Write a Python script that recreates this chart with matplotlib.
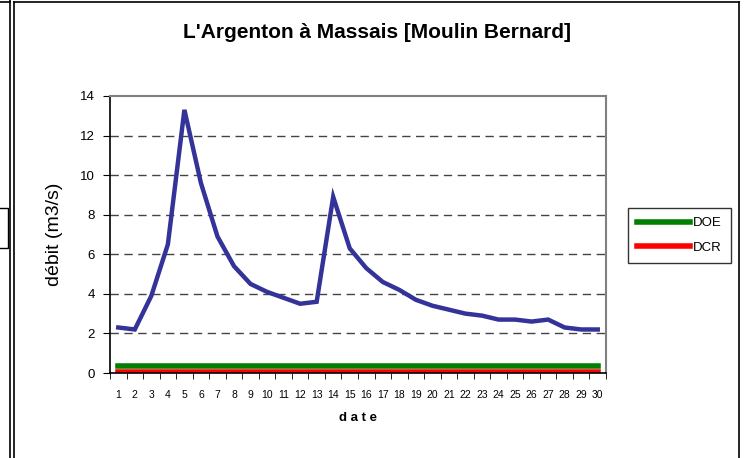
import numpy as np
import matplotlib.pyplot as plt
from matplotlib.lines import Line2D
from matplotlib.patches import Rectangle

plt.rcParams['font.family'] = ['Liberation Sans', 'DejaVu Sans']

jours = list(range(1, 31))
debit = [2.3, 2.2, 3.9, 6.5, 13.3, 9.6, 6.9, 5.4, 4.5, 4.1,
         3.8, 3.5, 3.6, 8.9, 6.3, 5.3, 4.6, 4.2, 3.7, 3.4,
         3.2, 3.0, 2.9, 2.7, 2.7, 2.6, 2.7, 2.3, 2.2, 2.2]
doe = [0.35] * 30
dcr = [0.05] * 30
y_ticks = [0, 2, 4, 6, 8, 10, 12, 14]

W, H = 747, 458
fig = plt.figure(figsize=(W / 100, H / 100), dpi=100)

# cadres (bords du graphique, style Excel)
def vline(x, y0, y1, **kw):
    fig.add_artist(Line2D([x / W, x / W], [1 - y0 / H, 1 - y1 / H], color='black', lw=1.2, **kw))

def hline(y, x0, x1, **kw):
    fig.add_artist(Line2D([x0 / W, x1 / W], [1 - y / H, 1 - y / H], color='black', lw=1.2, **kw))

vline(10, 0, H)
vline(14.5, 2, H)
vline(739, 2, H)
hline(2, 14.5, 739)
hline(2, 0, 10)
fig.add_artist(Rectangle((-2 / W, 1 - 248 / H), 10 / W, 40 / H, fill=False, lw=1, ec='black'))

ax = fig.add_axes([110 / W, 1 - 373 / H, 496 / W, 277 / H])
ax.plot(jours, debit, color='#333399', lw=3.2, solid_joinstyle='miter')
ax.plot(jours, doe, color='#008000', lw=4, label='DOE')
ax.plot(jours, dcr, color='#ff0000', lw=4, label='DCR')

ax.set_xlim(0.5, 30.5)
ax.set_ylim(0, 14)
ax.set_yticks(y_ticks)
ax.set_xticks(jours)
ax.set_xticks(np.arange(0.5, 31, 1), minor=True)
ax.tick_params(axis='x', which='major', length=0, labelsize=7.5, pad=12)
ax.tick_params(axis='x', which='minor', length=4, direction='out', color='black')
ax.tick_params(axis='y', length=5, direction='out', labelsize=9.5, pad=6)
for y in y_ticks[1:-1]:
    ax.axhline(y, color='#444444', lw=1, ls=(0, (6, 4)), zorder=0)

ax.spines['top'].set_color('#808080')
ax.spines['right'].set_color('#808080')
ax.spines['top'].set_linewidth(1.5)
ax.spines['right'].set_linewidth(1.5)
ax.spines['left'].set_linewidth(1.2)
ax.spines['bottom'].set_linewidth(1.2)

ax.set_ylabel('débit (m3/s)', fontsize=14, labelpad=12)
ax.set_xlabel('d a t e', fontsize=9.5, fontweight='bold', labelpad=9)
fig.text(377 / W, 1 - 33 / H, "L'Argenton à Massais [Moulin Bernard]",
         ha='center', va='center', fontsize=15, fontweight='bold')

leg = ax.legend(loc='upper left', bbox_to_anchor=(628 / W, 1 - 208 / H),
                bbox_transform=fig.transFigure, frameon=True, fancybox=False,
                edgecolor='black', fontsize=9.5, handlelength=4.0, handletextpad=0.2,
                borderpad=0.7, labelspacing=0.9, borderaxespad=0)
leg.get_frame().set_linewidth(1)

fig.savefig('out.png', dpi=100)
